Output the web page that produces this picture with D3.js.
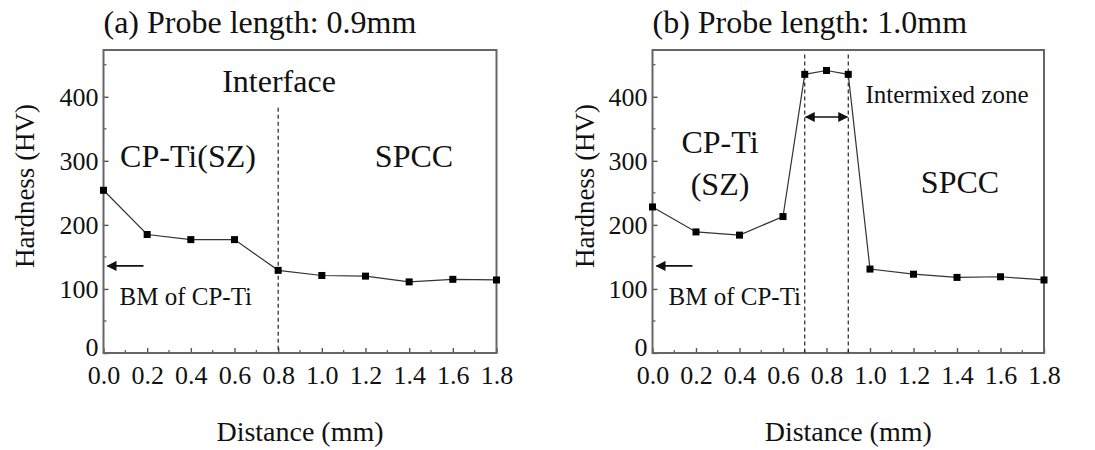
<!DOCTYPE html>
<html>
<head>
<meta charset="utf-8">
<script src="https://cdn.jsdelivr.net/npm/d3@7"></script>
<style>
  html, body { margin: 0; padding: 0; background: #fff; }
  svg { display: block; }
  text { font-family: "Liberation Serif", "Times New Roman", serif; fill: #111; }
</style>
</head>
<body>
<svg id="chart" width="1095" height="450"></svg>
<script>
// Microhardness profiles across the joint
const distances = [0.0, 0.2, 0.4, 0.6, 0.8, 1.0, 1.2, 1.4, 1.6, 1.8];
const hardnessA = [254, 185, 177, 177, 129, 121, 120, 111, 115, 114];

const distancesB = [0.0, 0.2, 0.4, 0.6, 0.7, 0.8, 0.9, 1.0, 1.2, 1.4, 1.6, 1.8];
const hardnessB = [228, 189, 184, 213, 435, 441, 435, 131, 123, 118, 119, 114];

const xTicks = [0.0, 0.2, 0.4, 0.6, 0.8, 1.0, 1.2, 1.4, 1.6, 1.8];
const yTicks = [0, 100, 200, 300, 400];
const baseMetalHV = 136;

const svg = d3.select("#chart");
const defs = svg.append("defs");
defs.append("marker")
  .attr("id", "head").attr("viewBox", "0 0 10 10")
  .attr("refX", 9).attr("refY", 5)
  .attr("markerWidth", 11).attr("markerHeight", 10)
  .attr("markerUnits", "userSpaceOnUse")
  .attr("orient", "auto-start-reverse")
  .append("path").attr("d", "M0,0 L10,5 L0,10 Z").attr("fill", "#111");

function panel(cfg) {
  const x = d3.scaleLinear().domain([0, 1.8]).range([cfg.left, cfg.right]);
  const y = d3.scaleLinear().domain([0, 473]).range([353, 50]);
  const g = svg.append("g");

  // minor ticks
  const minorX = d3.range(0.1, 1.8, 0.2);
  g.selectAll(".mx").data(minorX).join("line")
    .attr("x1", d => x(d)).attr("x2", d => x(d))
    .attr("y1", y(0)).attr("y2", y(0) - 3)
    .attr("stroke", "#555").attr("stroke-width", 1.2);
  const minorY = [50, 150, 250, 350, 450];
  g.selectAll(".my").data(minorY).join("line")
    .attr("x1", x(0)).attr("x2", x(0) + 3)
    .attr("y1", d => y(d)).attr("y2", d => y(d))
    .attr("stroke", "#555").attr("stroke-width", 1.2);

  // axes with inward ticks
  const xa = g.append("g").attr("transform", `translate(0,${y(0)})`)
    .call(d3.axisBottom(x).tickValues(xTicks).tickSize(-5).tickPadding(13)
      .tickFormat(d3.format(".1f")));
  const ya = g.append("g").attr("transform", `translate(${x(0)},0)`)
    .call(d3.axisLeft(y).tickValues(yTicks).tickSize(-5).tickPadding(5));
  [xa, ya].forEach(a => {
    a.select(".domain").remove();
    a.selectAll(".tick line").attr("stroke", "#555").attr("stroke-width", 1.4);
    a.selectAll(".tick text").style("font-size", "26px")
      .style("font-family", "'Liberation Serif', serif").attr("fill", "#111");
  });
  xa.selectAll(".tick text").attr("dy", "0.71em");
  // the zero label sits a little above the corner
  ya.selectAll(".tick text").filter(d => d === 0).attr("dy", "0.1em");

  // frame
  g.append("rect")
    .attr("x", x(0)).attr("y", y(473))
    .attr("width", x(1.8) - x(0)).attr("height", y(0) - y(473))
    .attr("fill", "none").attr("stroke", "#666").attr("stroke-width", 2);

  // dashed boundaries
  cfg.dashes.forEach(dd => {
    g.append("line")
      .attr("x1", x(dd.at)).attr("x2", x(dd.at))
      .attr("y1", y(dd.top)).attr("y2", y(0))
      .attr("stroke", "#111").attr("stroke-width", 1.1)
      .attr("stroke-dasharray", "4,3");
  });

  // profile line + markers
  const pts = cfg.xs.map((d, i) => [d, cfg.ys[i]]);
  g.append("path").datum(pts)
    .attr("d", d3.line().x(d => x(d[0])).y(d => y(d[1])))
    .attr("fill", "none").attr("stroke", "#333").attr("stroke-width", 1.2);
  g.selectAll(".pt").data(pts).join("rect")
    .attr("x", d => x(d[0]) - 3.5).attr("y", d => y(d[1]) - 3.5)
    .attr("width", 7).attr("height", 7).attr("fill", "#000");

  // base metal arrow
  g.append("line")
    .attr("x1", x(0) + cfg.bmLen).attr("x2", x(0) + 4)
    .attr("y1", y(baseMetalHV)).attr("y2", y(baseMetalHV))
    .attr("stroke", "#111").attr("stroke-width", 1.8)
    .attr("marker-end", "url(#head)");
  g.append("text").attr("x", x(0) + cfg.bmDx).attr("y", 305)
    .style("font-size", "25px").text("BM of CP-Ti");

  // titles
  g.append("text").attr("x", x(0)).attr("y", 33)
    .style("font-size", "32px").text(cfg.title);
  g.append("text").attr("x", (x(0) + x(1.8)) / 2).attr("y", 441)
    .attr("text-anchor", "middle").style("font-size", "28px").text("Distance (mm)");
  g.append("text")
    .attr("transform", `translate(${cfg.ylabX},186) rotate(-90)`)
    .attr("text-anchor", "middle").style("font-size", "27px").text("Hardness (HV)");

  cfg.labels.forEach(l => {
    g.append("text").attr("x", l.x).attr("y", l.y)
      .attr("text-anchor", "middle").style("font-size", l.size + "px").text(l.t);
  });
  return {x, y, g};
}

panel({
  left: 103.5, right: 496.5,
  xs: distances, ys: hardnessA,
  title: "(a) Probe length: 0.9mm",
  ylabX: 34, bmLen: 40, bmDx: 16,
  dashes: [{at: 0.8, top: 383}],
  labels: [
    {t: "Interface", x: 279, y: 92, size: 32},
    {t: "CP-Ti(SZ)", x: 188, y: 167, size: 32},
    {t: "SPCC", x: 414, y: 167, size: 32}
  ]
});

const b = panel({
  left: 652.5, right: 1044,
  xs: distancesB, ys: hardnessB,
  title: "(b) Probe length: 1.0mm",
  ylabX: 594, bmLen: 40, bmDx: 16,
  dashes: [{at: 0.7, top: 466}, {at: 0.9, top: 466}],
  labels: [
    {t: "CP-Ti", x: 720, y: 153, size: 32},
    {t: "(SZ)", x: 720, y: 195, size: 32},
    {t: "SPCC", x: 960, y: 193, size: 32},
    {t: "Intermixed zone", x: 947, y: 103, size: 25}
  ]
});

// width of the intermixed zone
b.g.append("line")
  .attr("x1", b.x(0.7) + 1).attr("x2", b.x(0.9) - 1)
  .attr("y1", 117).attr("y2", 117)
  .attr("stroke", "#111").attr("stroke-width", 1.5)
  .attr("marker-start", "url(#head)").attr("marker-end", "url(#head)");
</script>
</body>
</html>
